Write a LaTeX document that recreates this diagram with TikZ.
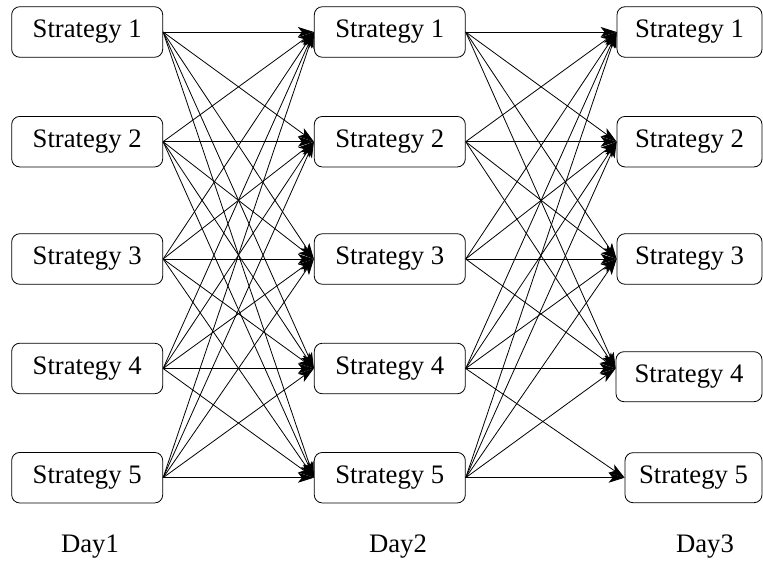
\documentclass[tikz,border=0pt]{standalone}
\usepackage{fontspec}
\setmainfont{Liberation Serif}
\usetikzlibrary{arrows.meta,positioning}

\tikzset{
  strat/.style={draw,rounded corners=8pt,minimum height=50.5pt,minimum width=151pt,
                inner sep=0pt,line width=0.8pt},
  link/.style={-{Stealth[length=16pt,width=10pt,inset=4pt]},line width=0.8pt},
}

\begin{document}
\begin{tikzpicture}[x=1pt,y=-1pt,font=\fontsize{26.7}{32}\selectfont]
  \useasboundingbox (0,0) rectangle (763,561);
  \foreach \i/\y in {1/32,2/141.7,3/259,4/368.5,5/477.7}{
    \node[strat] (a\i) at (87.2,\y) {Strategy \i};
    \node[strat] (b\i) at (389.8,\y) {Strategy \i};
  }
  \node[strat,minimum width=145pt] (c1) at (689.5,32) {Strategy 1};
  \node[strat,minimum width=145pt] (c2) at (689.5,141.7) {Strategy 2};
  \node[strat,minimum width=145pt] (c3) at (689.5,259) {Strategy 3};
  \node[strat,minimum width=146pt,minimum height=50pt] (c4) at (689,376.7) {Strategy 4};
  \node[strat,minimum width=137pt,minimum height=50pt] (c5) at (693.5,477.7) {Strategy 5};

  \node (l1) at (90,547) {Day1};
  \node (l2) at (398,547) {Day2};
  \node (l3) at (705,547) {Day3};

  \foreach \i in {1,...,5}{
    \foreach \j in {1,...,5}
      \draw[link] (a\i.east) -- (b\j.west);
    \foreach \j in {1,...,4}
      \draw[link] (b\i.east) -- (c\j.west |- b\j.east);
  }
  \draw[link] (b4.east) -- (c5.west |- b5.east);
  \draw[link] (b5.east) -- (c5.west |- b5.east);
\end{tikzpicture}
\end{document}
